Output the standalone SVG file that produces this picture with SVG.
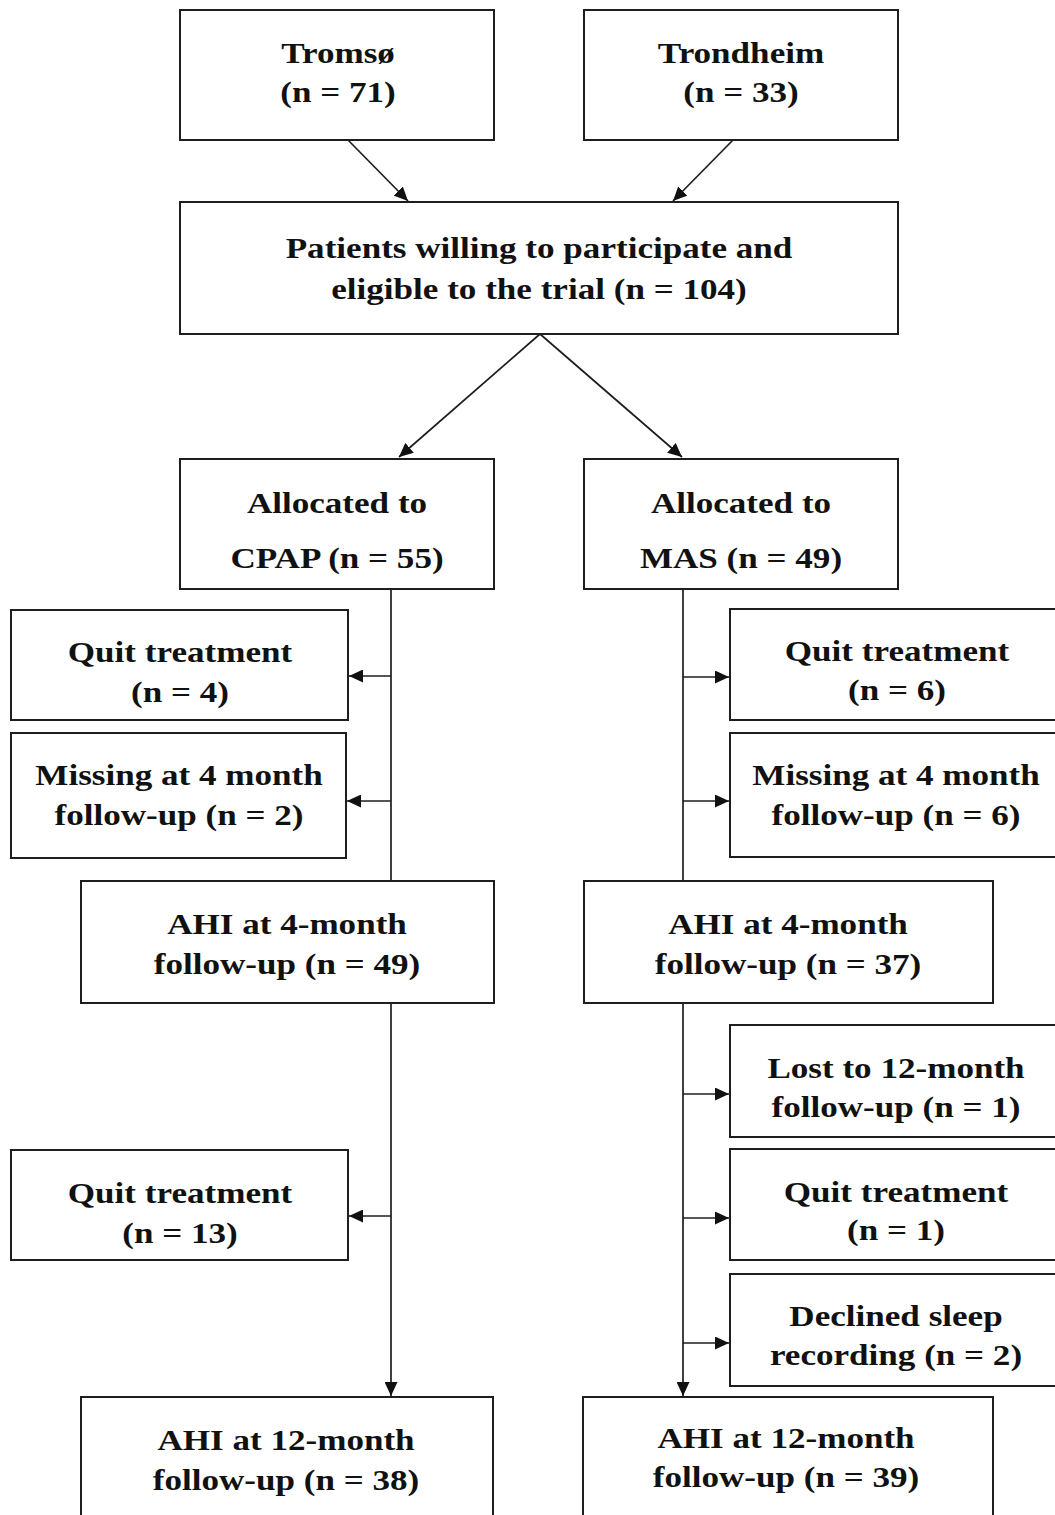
<svg xmlns="http://www.w3.org/2000/svg" width="1055" height="1515" viewBox="0 0 1055 1515">
<style>
.box{fill:#fff;stroke:#1e1e1e;stroke-width:2}
.t{font-family:"Liberation Serif","Times New Roman",serif;font-weight:bold;font-size:30px;fill:#111;text-anchor:middle}
.c{fill:none;stroke:#1e1e1e;stroke-width:1.7}
</style>
<defs>
<marker id="ah" markerUnits="userSpaceOnUse" markerWidth="15" markerHeight="13" refX="14" refY="6.5" orient="auto">
<path d="M0,0 L14,6.5 L0,13 z" fill="#111"/>
</marker>
</defs>
<rect width="1055" height="1515" fill="#fff"/>
<g id="connectors">
<line class="c" x1="348" y1="140" x2="408" y2="201" marker-end="url(#ah)"/>
<line class="c" x1="733" y1="140" x2="673" y2="201" marker-end="url(#ah)"/>
<line class="c" x1="540" y1="334" x2="399" y2="457" marker-end="url(#ah)"/>
<line class="c" x1="540" y1="334" x2="682" y2="457" marker-end="url(#ah)"/>
<line class="c" x1="391" y1="589" x2="391" y2="881"/>
<line class="c" x1="391" y1="676" x2="349" y2="676" marker-end="url(#ah)"/>
<line class="c" x1="391" y1="801" x2="347" y2="801" marker-end="url(#ah)"/>
<line class="c" x1="391" y1="1004" x2="391" y2="1396" marker-end="url(#ah)"/>
<line class="c" x1="391" y1="1216" x2="349" y2="1216" marker-end="url(#ah)"/>
<line class="c" x1="683" y1="589" x2="683" y2="881"/>
<line class="c" x1="683" y1="677" x2="729" y2="677" marker-end="url(#ah)"/>
<line class="c" x1="683" y1="801" x2="729" y2="801" marker-end="url(#ah)"/>
<line class="c" x1="683" y1="1004" x2="683" y2="1396" marker-end="url(#ah)"/>
<line class="c" x1="683" y1="1094" x2="729" y2="1094" marker-end="url(#ah)"/>
<line class="c" x1="683" y1="1218" x2="729" y2="1218" marker-end="url(#ah)"/>
<line class="c" x1="683" y1="1343" x2="729" y2="1343" marker-end="url(#ah)"/>
</g>
<g id="tromso">
<rect class="box" x="180" y="10" width="314" height="130"/>
<text class="t" transform="translate(338,63) scale(1.17,1)">Tromsø</text>
<text class="t" transform="translate(338,102) scale(1.17,1)">(n = 71)</text>
</g>
<g id="trondheim">
<rect class="box" x="584" y="10" width="314" height="130"/>
<text class="t" transform="translate(741,63) scale(1.17,1)">Trondheim</text>
<text class="t" transform="translate(741,102) scale(1.17,1)">(n = 33)</text>
</g>
<g id="eligible">
<rect class="box" x="180" y="202" width="718" height="132"/>
<text class="t" transform="translate(539,258) scale(1.17,1)">Patients willing to participate and</text>
<text class="t" transform="translate(539,299) scale(1.17,1)">eligible to the trial (n = 104)</text>
</g>
<g id="alloc-cpap">
<rect class="box" x="180" y="459" width="314" height="130"/>
<text class="t" transform="translate(337,513) scale(1.17,1)">Allocated to</text>
<text class="t" transform="translate(337,568) scale(1.17,1)">CPAP (n = 55)</text>
</g>
<g id="alloc-mas">
<rect class="box" x="584" y="459" width="314" height="130"/>
<text class="t" transform="translate(741,513) scale(1.17,1)">Allocated to</text>
<text class="t" transform="translate(741,568) scale(1.17,1)">MAS (n = 49)</text>
</g>
<g id="cpap-quit1">
<rect class="box" x="11" y="610" width="337" height="110"/>
<text class="t" transform="translate(180,662) scale(1.17,1)">Quit treatment</text>
<text class="t" transform="translate(180,702) scale(1.17,1)">(n = 4)</text>
</g>
<g id="cpap-missing">
<rect class="box" x="11" y="733" width="335" height="125"/>
<text class="t" transform="translate(179,785) scale(1.17,1)">Missing at 4 month</text>
<text class="t" transform="translate(179,825) scale(1.17,1)">follow-up (n = 2)</text>
</g>
<g id="mas-quit1">
<rect class="box" x="730" y="609" width="335" height="111"/>
<text class="t" transform="translate(897,661) scale(1.17,1)">Quit treatment</text>
<text class="t" transform="translate(897,700) scale(1.17,1)">(n = 6)</text>
</g>
<g id="mas-missing">
<rect class="box" x="730" y="733" width="335" height="124"/>
<text class="t" transform="translate(896,785) scale(1.17,1)">Missing at 4 month</text>
<text class="t" transform="translate(896,825) scale(1.17,1)">follow-up (n = 6)</text>
</g>
<g id="cpap-ahi4">
<rect class="box" x="81" y="881" width="413" height="122"/>
<text class="t" transform="translate(287,934) scale(1.17,1)">AHI at 4-month</text>
<text class="t" transform="translate(287,974) scale(1.17,1)">follow-up (n = 49)</text>
</g>
<g id="mas-ahi4">
<rect class="box" x="584" y="881" width="409" height="122"/>
<text class="t" transform="translate(788,934) scale(1.17,1)">AHI at 4-month</text>
<text class="t" transform="translate(788,974) scale(1.17,1)">follow-up (n = 37)</text>
</g>
<g id="mas-lost">
<rect class="box" x="730" y="1025" width="335" height="112"/>
<text class="t" transform="translate(896,1078) scale(1.17,1)">Lost to 12-month</text>
<text class="t" transform="translate(896,1117) scale(1.17,1)">follow-up (n = 1)</text>
</g>
<g id="mas-quit2">
<rect class="box" x="730" y="1149" width="335" height="111"/>
<text class="t" transform="translate(896,1202) scale(1.17,1)">Quit treatment</text>
<text class="t" transform="translate(896,1240) scale(1.17,1)">(n = 1)</text>
</g>
<g id="mas-declined">
<rect class="box" x="730" y="1274" width="335" height="112"/>
<text class="t" transform="translate(896,1326) scale(1.17,1)">Declined sleep</text>
<text class="t" transform="translate(896,1365) scale(1.17,1)">recording (n = 2)</text>
</g>
<g id="cpap-quit2">
<rect class="box" x="11" y="1150" width="337" height="110"/>
<text class="t" transform="translate(180,1203) scale(1.17,1)">Quit treatment</text>
<text class="t" transform="translate(180,1243) scale(1.17,1)">(n = 13)</text>
</g>
<g id="cpap-ahi12">
<rect class="box" x="81" y="1397" width="412" height="140"/>
<text class="t" transform="translate(286,1450) scale(1.17,1)">AHI at 12-month</text>
<text class="t" transform="translate(286,1490) scale(1.17,1)">follow-up (n = 38)</text>
</g>
<g id="mas-ahi12">
<rect class="box" x="583" y="1397" width="410" height="140"/>
<text class="t" transform="translate(786,1448) scale(1.17,1)">AHI at 12-month</text>
<text class="t" transform="translate(786,1487) scale(1.17,1)">follow-up (n = 39)</text>
</g>
</svg>
